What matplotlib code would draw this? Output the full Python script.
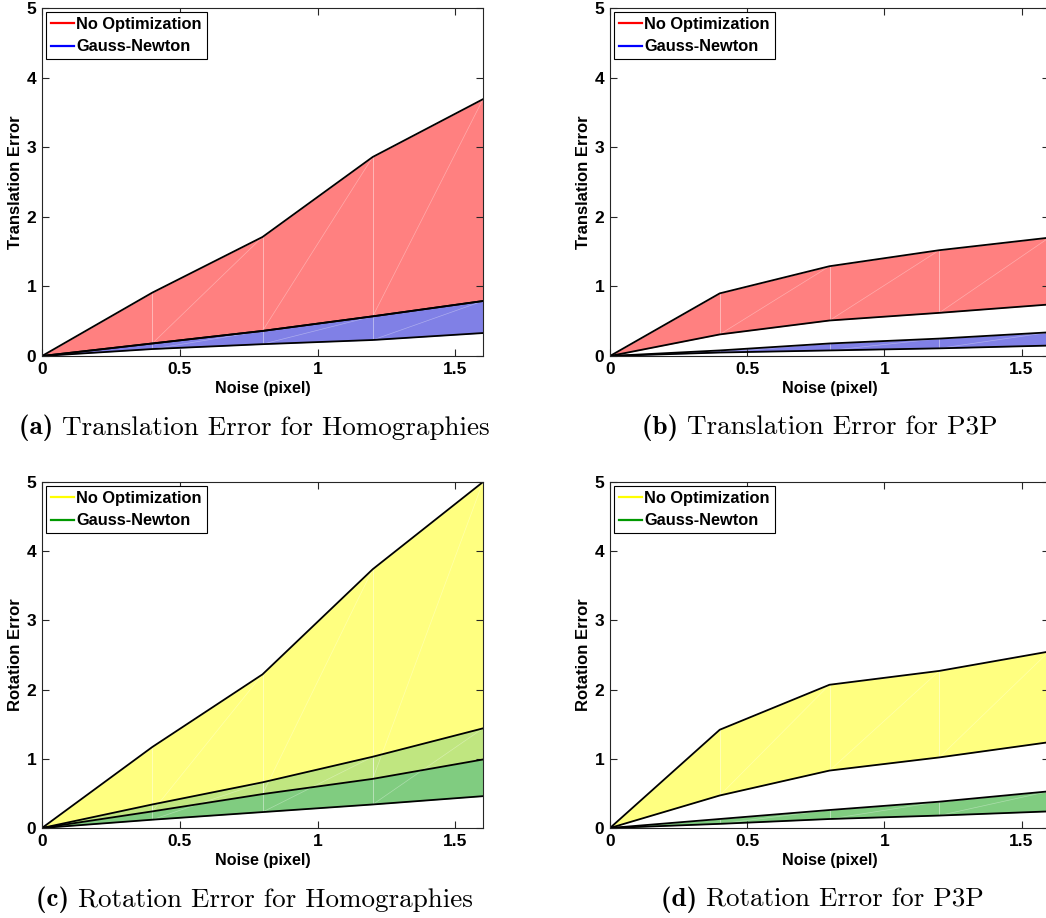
import numpy as np
import matplotlib
matplotlib.use('Agg')
import matplotlib.pyplot as plt
from matplotlib.lines import Line2D

# noise levels (pixel)
noise = [0, 0.4, 0.8, 1.2, 1.6]

# (a) translation error, homographies
a_noopt_hi = [0, 0.91, 1.71, 2.86, 3.69]
a_noopt_lo = [0, 0.18, 0.36, 0.57, 0.79]
a_gn_hi = [0, 0.18, 0.36, 0.57, 0.79]
a_gn_lo = [0, 0.10, 0.17, 0.23, 0.33]

# (b) translation error, P3P
b_noopt_hi = [0, 0.90, 1.29, 1.52, 1.70]
b_noopt_lo = [0, 0.31, 0.51, 0.62, 0.74]
b_gn_hi = [0, 0.08, 0.18, 0.25, 0.34]
b_gn_lo = [0, 0.05, 0.08, 0.11, 0.15]

# (c) rotation error, homographies
c_noopt_hi = [0, 1.17, 2.22, 3.74, 5.0]
c_noopt_lo = [0, 0.24, 0.49, 0.71, 0.99]
c_gn_hi = [0, 0.34, 0.66, 1.03, 1.44]
c_gn_lo = [0, 0.12, 0.23, 0.34, 0.46]

# (d) rotation error, P3P
d_noopt_hi = [0, 1.42, 2.07, 2.27, 2.55]
d_noopt_lo = [0, 0.47, 0.83, 1.02, 1.24]
d_gn_hi = [0, 0.13, 0.26, 0.38, 0.53]
d_gn_lo = [0, 0.06, 0.13, 0.18, 0.24]

captions = ['Translation Error for Homographies', 'Translation Error for P3P',
            'Rotation Error for Homographies', 'Rotation Error for P3P']
letters = ['(a)', '(b)', '(c)', '(d)']

plt.rcParams['font.family'] = ['Liberation Sans', 'DejaVu Sans']
plt.rcParams['font.weight'] = 'bold'

W, H = 1046, 918
fig = plt.figure(figsize=(W / 100, H / 100), dpi=100)


def blend(c1, c2):
    a = np.array(matplotlib.colors.to_rgb(c1))
    b = np.array(matplotlib.colors.to_rgb(c2))
    return tuple((a + b) / 2)


def seams(ax, lo, hi):
    # faint patch triangulation seams
    for i in range(1, len(noise)):
        ax.plot([noise[i], noise[i]], [lo[i], hi[i]], color='white', lw=0.6, alpha=0.5)
        ax.plot([noise[i - 1], noise[i]], [lo[i - 1], hi[i]], color='white', lw=0.5, alpha=0.35)


def panel(rect, bands, fills, lines, ylabel):
    ax = fig.add_axes(rect)
    for (lo, hi), c in zip(bands, fills):
        ax.fill_between(noise, lo, hi, color=c, linewidth=0)
    # overlap of the two bands, mixed colour
    (lo1, hi1), (lo2, hi2) = bands
    olo = np.maximum(lo1, lo2)
    ohi = np.minimum(hi1, hi2)
    ax.fill_between(noise, olo, ohi, where=ohi > olo, interpolate=True,
                    color=blend(fills[0], fills[1]), linewidth=0)
    for lo, hi in bands:
        seams(ax, lo, hi)
    for lo, hi in bands:
        ax.plot(noise, hi, color='black', lw=1.3)
        ax.plot(noise, lo, color='black', lw=1.3)
    ax.set_xlim(0, 1.6)
    ax.set_ylim(0, 5)
    ax.set_xticks([0, 0.5, 1, 1.5])
    ax.set_xticklabels(['0', '0.5', '1', '1.5'])
    ax.set_yticks([0, 1, 2, 3, 4, 5])
    ax.tick_params(direction='in', top=True, right=True, labelsize=12.5, length=5,
                   width=0.8, colors='#262626', pad=4)
    for lab in ax.get_xticklabels() + ax.get_yticklabels():
        lab.set_color('black')
        lab.set_fontweight('bold')
    for s in ax.spines.values():
        s.set_color('#262626')
        s.set_linewidth(0.8)
    ax.set_xlabel('Noise (pixel)', fontsize=11.6, fontweight='bold', labelpad=3)
    ax.set_ylabel(ylabel, fontsize=12, fontweight='bold', labelpad=3)
    handles = [Line2D([], [], color=lines[0], lw=1.6), Line2D([], [], color=lines[1], lw=1.6)]
    leg = ax.legend(handles, ['No Optimization', 'Gauss-Newton'], loc='upper left',
                    fancybox=False, edgecolor='black', framealpha=1,
                    borderaxespad=0.25, borderpad=0.3, handlelength=1.4,
                    handletextpad=0.15, labelspacing=0.45,
                    prop={'size': 11.8, 'weight': 'bold'})
    leg.get_frame().set_linewidth(0.8)
    return ax


lx, rx = 42 / W, 610 / W
lw_, rw_ = 441 / W, 439 / W
top_b, top_h = 1 - 356 / H, 348 / H
bot_b, bot_h = 1 - 828 / H, 346 / H

red_f, blue_f = '#ff8080', '#8080e6'
yellow_f, green_f = '#ffff80', '#80cc80'
red, blue = '#ff0000', '#0000ff'
yellow, green = '#ffff00', '#009900'

panel([lx, top_b, lw_, top_h], [(a_noopt_lo, a_noopt_hi), (a_gn_lo, a_gn_hi)],
      [red_f, blue_f], [red, blue], 'Translation Error')
panel([rx, top_b, rw_, top_h], [(b_noopt_lo, b_noopt_hi), (b_gn_lo, b_gn_hi)],
      [red_f, blue_f], [red, blue], 'Translation Error')
panel([lx, bot_b, lw_, bot_h], [(c_noopt_lo, c_noopt_hi), (c_gn_lo, c_gn_hi)],
      [yellow_f, green_f], [yellow, green], 'Rotation Error')
panel([rx, bot_b, rw_, bot_h], [(d_noopt_lo, d_noopt_hi), (d_gn_lo, d_gn_hi)],
      [yellow_f, green_f], [yellow, green], 'Rotation Error')

# captions under each subfigure
cap_pos = [(254, 428), (820, 428), (254, 900), (822, 900)]
for (cx, cy), let, cap in zip(cap_pos, letters, captions):
    t1 = fig.text(0, 0, let + ' ', fontsize=19.5, family='cmb10')
    t2 = fig.text(0, 0, cap, fontsize=19.5, family='cmr10', fontweight='normal')
    fig.canvas.draw()
    r = fig.canvas.get_renderer()
    w1 = t1.get_window_extent(r).width
    w2 = t2.get_window_extent(r).width
    x0 = cx - (w1 + w2) / 2
    t1.set_position((x0 / W, 1 - cy / H))
    t2.set_position(((x0 + w1) / W, 1 - cy / H))
    t1.set_va('center')
    t2.set_va('center')

fig.savefig('out.png', dpi=100)
